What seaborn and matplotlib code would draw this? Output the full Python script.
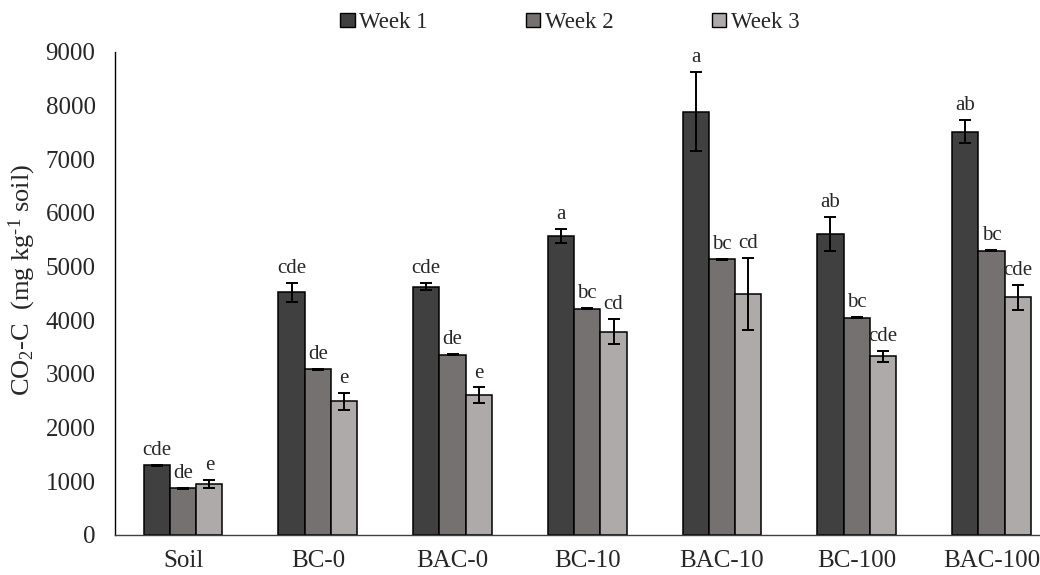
import matplotlib
matplotlib.use("Agg")
import matplotlib.pyplot as plt
import seaborn as sns
import pandas as pd
import numpy as np
from matplotlib.patches import Patch

categories = ["Soil", "BC-0", "BAC-0", "BC-10", "BAC-10", "BC-100", "BAC-100"]
weeks = ["Week 1", "Week 2", "Week 3"]
week1 = [1300, 4520, 4630, 5570, 7890, 5610, 7515]
week2 = [870, 3090, 3360, 4220, 5140, 4050, 5300]
week3 = [950, 2490, 2600, 3790, 4490, 3330, 4430]
err1 = [10, 180, 60, 130, 740, 320, 220]
err2 = [10, 10, 10, 10, 10, 10, 10]
err3 = [80, 160, 150, 230, 670, 100, 230]
let1 = ["cde", "cde", "cde", "a", "a", "ab", "ab"]
let2 = ["de", "de", "de", "bc", "bc", "bc", "bc"]
let3 = ["e", "e", "e", "cd", "cd", "cde", "cde"]
colors = ["#404040", "#767171", "#AEAAAA"]

sns.set_style("white")
plt.rcParams["font.family"] = ["Liberation Serif", "DejaVu Serif"]
plt.rcParams["mathtext.fontset"] = "custom"
plt.rcParams["mathtext.rm"] = "Liberation Serif"
plt.rcParams["mathtext.it"] = "Liberation Serif:italic"

rows = []
for vals, errs, lets, w in [(week1, err1, let1, weeks[0]), (week2, err2, let2, weeks[1]), (week3, err3, let3, weeks[2])]:
    for c, v, e, l in zip(categories, vals, errs, lets):
        rows.append({"Treatment": c, "Week": w, "CO2": v, "err": e, "letter": l})
df = pd.DataFrame(rows)

fig = plt.figure(figsize=(10.4, 5.75), dpi=100)
ax = fig.add_axes([0.1106, 0.0696, 0.8894, 0.84])

sns.barplot(data=df, x="Treatment", y="CO2", hue="Week", order=categories,
            hue_order=weeks, palette=colors, width=0.585, errorbar=None,
            edgecolor="black", linewidth=1.1, saturation=1, ax=ax, legend=False)

for cont, w in zip(ax.containers, weeks):
    sub = df[df["Week"] == w].set_index("Treatment").loc[categories]
    for bar, v, e, l in zip(cont, sub["CO2"], sub["err"], sub["letter"]):
        xc = bar.get_x() + bar.get_width() / 2
        ax.errorbar(xc, v, yerr=e, color="black", elinewidth=1.4, capsize=4.5,
                    capthick=1.4, fmt="none", zorder=5)
        ax.text(xc, v + e + 90, l, ha="center", va="bottom", fontsize=15)

ax.set_ylim(0, 9000)
ax.set_xlim(-0.505, 6.36)
ax.set_yticks(range(0, 9001, 1000))
ax.tick_params(axis="y", labelsize=18, length=0, pad=14)
ax.tick_params(axis="x", labelsize=18, length=0, pad=11)
ax.set_xlabel("")
ax.set_ylabel(r"CO$_2$-C  (mg kg$^{\text{-1}}$ soil)", fontsize=19)
ax.yaxis.set_label_coords(-0.083, 0.528)
for s in ["top", "right"]:
    ax.spines[s].set_visible(False)
ax.spines["left"].set_color("black")
ax.spines["bottom"].set_color("#404040")
ax.spines["left"].set_linewidth(1.0)
ax.spines["bottom"].set_linewidth(1.0)

handles = [Patch(facecolor=c, edgecolor="black", linewidth=1.0) for c in colors]
fig.legend(handles, weeks, loc="upper center", bbox_to_anchor=(0.548, 1.015), ncol=3,
           frameon=False, fontsize=16.5, handlelength=0.62, handleheight=0.62,
           handletextpad=0.2, columnspacing=4.3)

fig.savefig("out.png", dpi=100)
